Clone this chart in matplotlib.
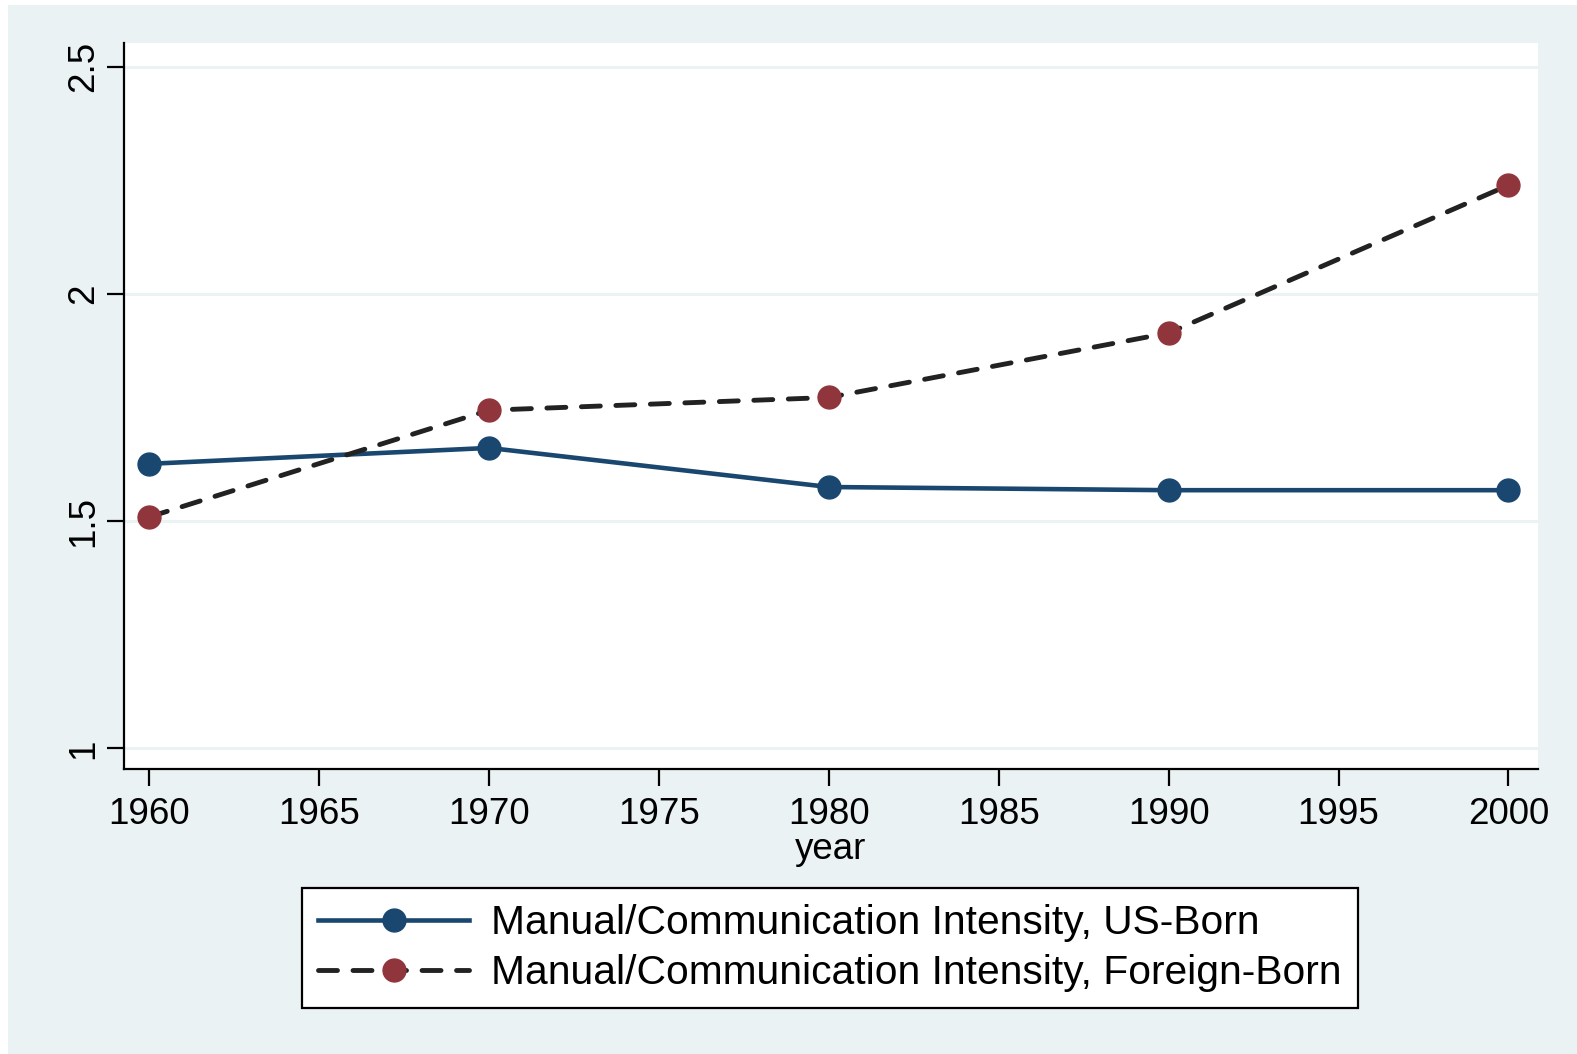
import matplotlib
matplotlib.use("Agg")
import matplotlib.pyplot as plt
from matplotlib.patches import Rectangle
from matplotlib.lines import Line2D

plt.rcParams['font.family'] = ['Liberation Sans', 'DejaVu Sans']

years = [1960, 1970, 1980, 1990, 2000]
us_born = [1.626, 1.661, 1.575, 1.568, 1.568]
foreign_born = [1.509, 1.744, 1.772, 1.914, 2.239]
x_ticks = [1960, 1965, 1970, 1975, 1980, 1985, 1990, 1995, 2000]
y_ticks = [1, 1.5, 2, 2.5]
y_ticklabels = ['1', '1.5', '2', '2.5']
labels = ['Manual/Communication Intensity, US-Born',
          'Manual/Communication Intensity, Foreign-Born']

W, H = 1577, 1054
BG = '#EAF2F3'
NAVY = '#1A476F'
MAROON = '#90353B'
DARK = '#222222'
DASH = (0, (3.9, 3.2))

fig = plt.figure(figsize=(W / 100, H / 100), dpi=100, facecolor='white')
fig.patches.append(Rectangle((8 / W, 0), 1 - 8 / W, 1 - 5 / H, transform=fig.transFigure,
                             facecolor=BG, edgecolor='none', zorder=-10))

ax = fig.add_axes([124 / W, 1 - 769 / H, (1538 - 124) / W, (769 - 43) / H])
ax.set_facecolor('white')
ax.set_xlim(1959.26, 2000.87)
ax.set_ylim(0.9545, 2.552)

for y in y_ticks:
    ax.axhline(y, color=BG, lw=2.0, zorder=1)

ax.plot(years, us_born, color=NAVY, lw=3.3, marker='o', markersize=16.5,
        markerfacecolor=NAVY, markeredgecolor=NAVY, zorder=3, solid_capstyle='round')
ax.plot(years, foreign_born, color=DARK, lw=3.5, linestyle=DASH,
        dash_capstyle='round', marker='o', markersize=16.5,
        markerfacecolor=MAROON, markeredgecolor=MAROON, zorder=3)

for s in ['top', 'right']:
    ax.spines[s].set_visible(False)
for s in ['left', 'bottom']:
    ax.spines[s].set_linewidth(1.6)
    ax.spines[s].set_color('black')

ax.set_xticks(x_ticks)
ax.set_xticklabels([str(v) for v in x_ticks], fontsize=26.5)
ax.set_yticks(y_ticks)
ax.set_yticklabels(y_ticklabels, fontsize=26.5, rotation=90, va='center')
ax.tick_params(axis='both', direction='out', length=12.5, width=1.6, color='black')
ax.tick_params(axis='x', pad=8)
ax.tick_params(axis='y', pad=4)
ax.set_xlabel('year', fontsize=26.5, labelpad=0)

handles = [
    Line2D([], [], color=NAVY, lw=3.3, marker='o', markersize=16.5,
           markerfacecolor=NAVY, markeredgecolor=NAVY),
    Line2D([], [], color=DARK, lw=3.5, linestyle=DASH, dash_capstyle='round',
           marker='o', markersize=16.5, markerfacecolor=MAROON, markeredgecolor=MAROON),
]
leg = fig.legend(handles, labels, loc='center', bbox_to_anchor=(830 / W, 1 - 948 / H),
                 fontsize=29.3, frameon=True, fancybox=False, edgecolor='black',
                 facecolor='white', framealpha=1, handlelength=3.7, handletextpad=0.55,
                 labelspacing=0.3, borderpad=0.4, borderaxespad=0)
leg.get_frame().set_linewidth(1.6)

fig.savefig('out.png', dpi=100, facecolor=fig.get_facecolor())
